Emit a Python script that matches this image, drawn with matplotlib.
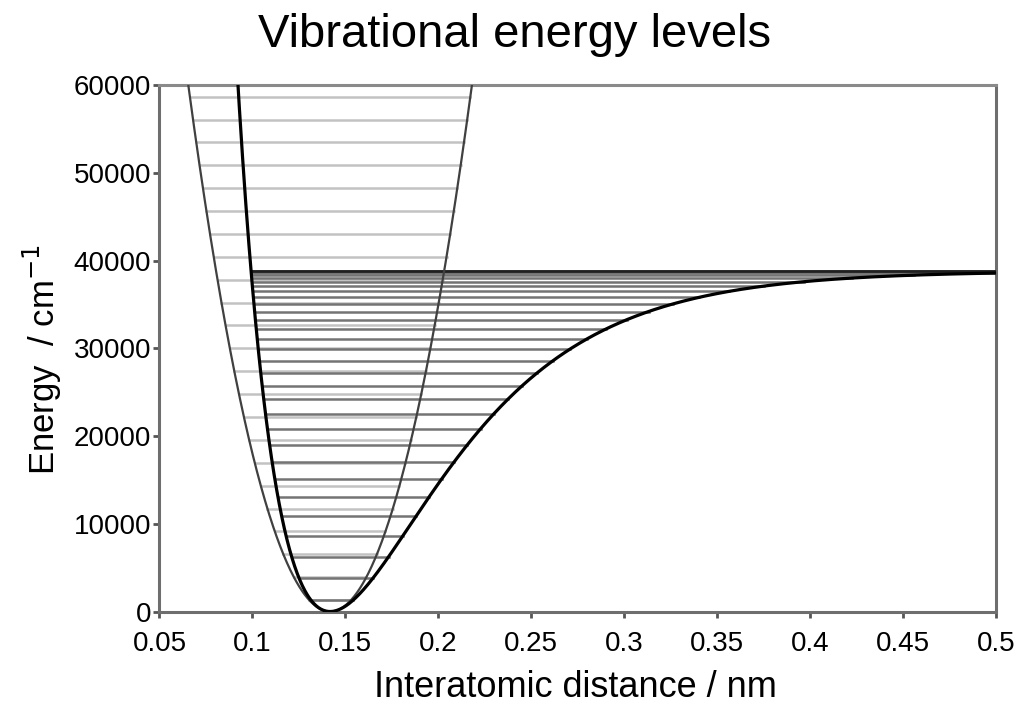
import numpy as np
import matplotlib
matplotlib.use("Agg")
import matplotlib.pyplot as plt

plt.rcParams["font.family"] = ["Liberation Sans", "DejaVu Sans"]

# spectroscopic constants of the diatomic (cm^-1, nm)
r_e = 0.1418        # equilibrium bond length
D_e = 38800.0       # well depth
omega_e = 2608.0    # harmonic wavenumber
a_morse = 16.3      # Morse range parameter, 1/nm
k_half = D_e * a_morse ** 2   # harmonic curvature matching the Morse well

x_ticks = [0.05, 0.1, 0.15, 0.2, 0.25, 0.3, 0.35, 0.4, 0.45, 0.5]
x_tick_labels = ["0.05", "0.1", "0.15", "0.2", "0.25", "0.3", "0.35", "0.4", "0.45", "0.5"]
y_ticks = [0, 10000, 20000, 30000, 40000, 50000, 60000]

E_MAX = 60000
X_MIN, X_MAX = 0.05, 0.5

def morse(r):
    return D_e * (1 - np.exp(-a_morse * (r - r_e))) ** 2

def harmonic(r):
    return k_half * (r - r_e) ** 2

# energy levels
v_harm = np.arange(0, 40)
E_harm = omega_e * (v_harm + 0.5)
E_harm = E_harm[E_harm <= E_MAX]

wx = omega_e ** 2 / (4 * D_e)
v_morse = np.arange(0, 40)
E_morse = omega_e * (v_morse + 0.5) - wx * (v_morse + 0.5) ** 2
v_max = int(np.floor(omega_e / (2 * wx) - 0.5))
E_morse = E_morse[: v_max + 1]

fig = plt.figure(figsize=(10.19, 7.10), dpi=100)
ax = fig.add_axes([0.1565, 0.1387, 0.8209, 0.7415])

# harmonic levels (light grey, drawn first)
for E in E_harm:
    dr = np.sqrt(E / k_half)
    ax.plot([r_e - dr, r_e + dr], [E, E], color="#c2c2c2", lw=1.8, zorder=1)

# Morse levels
for E in E_morse:
    s = np.sqrt(E / D_e)
    r_left = r_e - np.log(1 + s) / a_morse
    r_right = r_e - np.log(max(1 - s, 1e-12)) / a_morse
    ax.plot([r_left, min(r_right, X_MAX)], [E, E], color="#747474", lw=1.8, zorder=2)

# dissociation limit
r_diss = r_e - np.log(2) / a_morse
ax.plot([r_diss, X_MAX], [D_e, D_e], color="#202020", lw=2.0, zorder=3)

# potential curves
r = np.linspace(0.04, 0.26, 600)
ax.plot(r, harmonic(r), color="#404040", lw=1.6, zorder=4)
r = np.linspace(0.085, 0.5, 1200)
ax.plot(r, morse(r), color="black", lw=2.3, zorder=5)

ax.set_xlim(X_MIN, X_MAX)
ax.set_ylim(0, E_MAX)
ax.set_xticks(x_ticks)
ax.set_xticklabels(x_tick_labels)
ax.set_yticks(y_ticks)
ax.set_yticklabels([str(t) for t in y_ticks])
ax.tick_params(axis="x", direction="out", length=4, width=2, color="#555555",
               labelsize=20, pad=10)
ax.tick_params(axis="y", direction="out", length=4, width=2, color="#555555",
               labelsize=20, pad=2)
for side in ["left", "bottom", "right", "top"]:
    ax.spines[side].set_color("#6e6e6e")
    ax.spines[side].set_linewidth(2.2)
ax.spines["top"].set_color("#8a8a8a")

fig.text(0.505, 1 - 47 / 710, "Vibrational energy levels", ha="center",
         va="baseline", fontsize=34)
fig.text(575 / 1019, 1 - 697 / 710, "Interatomic distance / nm", ha="center",
         va="baseline", fontsize=26)
fig.text(42 / 1019, 1 - 360 / 710, r"Energy  / cm$^{-1}$", ha="center",
         va="center", rotation=90, fontsize=25)

fig.savefig("out.png", dpi=100)
